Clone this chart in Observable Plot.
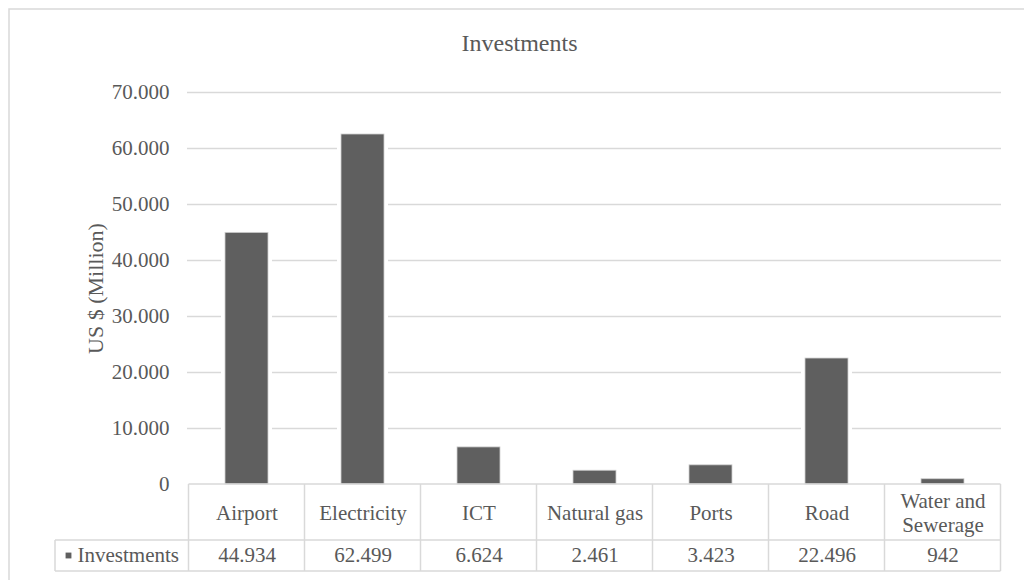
<!DOCTYPE html>
<html>
<head>
<meta charset="utf-8">
<script src="https://cdn.jsdelivr.net/npm/d3@7"></script>
<script src="https://cdn.jsdelivr.net/npm/@observablehq/plot@0.6"></script>
<style>
  html, body { margin: 0; padding: 0; background: white; }
  #chart svg { display: block; }
</style>
</head>
<body>
<div id="chart"></div>
<script>
// ---- data ----
const categories = ["Airport", "Electricity", "ICT", "Natural gas", "Ports", "Road", "Water and Sewerage"];
const categoryLabels = ["Airport", "Electricity", "ICT", "Natural gas", "Ports", "Road", "Water and\nSewerage"];
const values = [44934, 62499, 6624, 2461, 3423, 22496, 942];
const yTicks = [0, 10000, 20000, 30000, 40000, 50000, 60000, 70000];
const seriesName = "Investments";
const titleText = "Investments";
const yLabel = "US $ (Million)";

// ---- formatting (dot as thousands separator) ----
const locale = d3.formatLocale({decimal: ",", thousands: ".", grouping: [3], currency: ["", ""]});
const fmt = locale.format(",d");

const data = categories.map((c, i) => ({category: c, label: categoryLabels[i], value: values[i]}));

const grid = "#d9d9d9";
const ink = "#595959";
const barColor = "#5f5f5f";
const fs = 21;

const chart = Plot.plot({
  width: 1024,
  height: 580,
  marginTop: 92,
  marginBottom: 96,
  marginLeft: 187,
  marginRight: 23,
  style: {
    fontFamily: "'Liberation Serif', 'Times New Roman', serif",
    fontSize: fs + "px",
    color: ink,
    background: "white",
    overflow: "visible"
  },
  x: {domain: categories, paddingInner: 0.63, paddingOuter: 0.315, axis: null},
  y: {domain: [0, 70000], axis: null},
  marks: [
    Plot.ruleY(yTicks.filter(d => d > 0), {stroke: grid, strokeWidth: 1.3}),
    Plot.barY(data, {x: "category", y: "value", fill: "white", insetLeft: -4, insetRight: -4}),
    Plot.barY(data, {x: "category", y: "value", fill: barColor, stroke: "#d0d0d0", strokeWidth: 0.8}),
    Plot.axisY(yTicks, {tickSize: 0, tickPadding: 18, tickFormat: fmt, label: null, fontSize: fs, fill: ink}),
    Plot.text(data, {x: "category", text: "label", frameAnchor: "bottom", lineAnchor: "middle", dy: 28, lineHeight: 1.12, fontSize: fs, fill: ink}),
    Plot.text(data, {x: "category", text: d => fmt(d.value), frameAnchor: "bottom", lineAnchor: "middle", dy: 71, fontSize: fs, fill: ink}),
    Plot.text([seriesName], {frameAnchor: "bottom-left", lineAnchor: "middle", textAnchor: "start", dx: -110, dy: 71, fontSize: fs, fill: ink}),
    Plot.dot([seriesName], {frameAnchor: "bottom-left", dx: -119, dy: 71, symbol: "square", r: 3.3, fill: barColor, stroke: null}),
    Plot.text([titleText], {frameAnchor: "top", lineAnchor: "middle", textAnchor: "middle", dx: -75, dy: -49, fontSize: 24, fill: ink}),
    Plot.text([yLabel], {frameAnchor: "left", lineAnchor: "middle", textAnchor: "middle", dx: -92, rotate: -90, fontSize: 22, fill: ink})
  ]
});

document.getElementById("chart").appendChild(chart);

// ---- data-table lines, positioned through Plot's own scales ----
const xs = chart.scale("x");
const ys = chart.scale("y");
const step = xs.step;
const pad = (step - xs.bandwidth) / 2;
const y0 = ys.apply(0);
const rowMid = y0 + 56;
const rowBot = y0 + 87;
const left = xs.apply(categories[0]) - pad;
const right = xs.apply(categories[categories.length - 1]) + xs.bandwidth + pad;
const headerLeft = 55;

const svg = d3.select(chart);
// outer chart border
svg.insert("rect", ":first-child")
  .attr("x", 9).attr("y", 9).attr("width", 1100).attr("height", 700)
  .attr("fill", "none").attr("stroke", grid).attr("stroke-width", 1.5);

const g = svg.append("g").attr("stroke", grid).attr("stroke-width", 1.5).attr("fill", "none");
g.append("line").attr("x1", left).attr("x2", right).attr("y1", y0).attr("y2", y0);
g.append("line").attr("x1", headerLeft).attr("x2", right).attr("y1", rowMid).attr("y2", rowMid);
g.append("line").attr("x1", headerLeft).attr("x2", right).attr("y1", rowBot).attr("y2", rowBot);
g.append("line").attr("x1", headerLeft).attr("x2", headerLeft).attr("y1", rowMid).attr("y2", rowBot);
categories.forEach(c => {
  const x = xs.apply(c) - pad;
  g.append("line").attr("x1", x).attr("x2", x).attr("y1", y0).attr("y2", rowBot);
});
g.append("line").attr("x1", right).attr("x2", right).attr("y1", y0).attr("y2", rowBot);
</script>
</body>
</html>
